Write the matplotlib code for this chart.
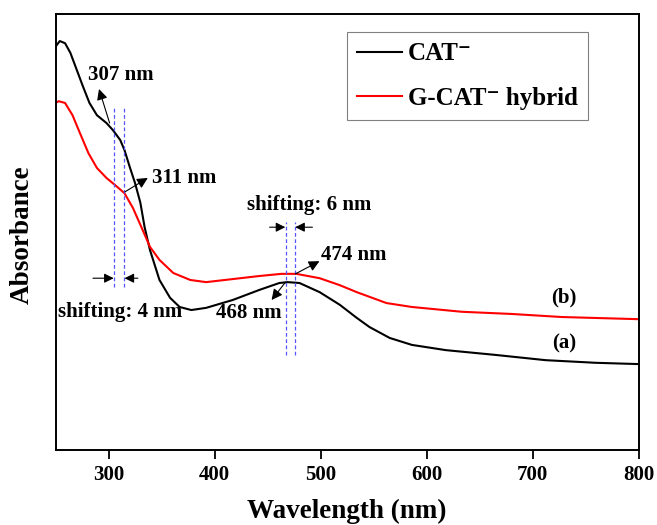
"""UV-vis absorbance spectra of CAT- and G-CAT- hybrid."""

import matplotlib
matplotlib.use('Agg')
import matplotlib.pyplot as plt

plt.rcParams['font.family'] = ['Liberation Serif', 'DejaVu Serif']
plt.rcParams['font.weight'] = 'bold'

# CAT- (curve a)
cat_wl = [250, 254, 259, 264, 270, 276, 282, 289, 298, 304, 311, 315, 320,
          325, 330, 334, 339, 348, 358, 367, 378, 392, 417, 442, 461, 469,
          480, 499, 518, 534, 546, 565, 586, 618, 665, 712, 759, 800]
cat_abs = [0.925, 0.938, 0.933, 0.911, 0.872, 0.833, 0.796, 0.768, 0.750,
           0.734, 0.711, 0.688, 0.649, 0.612, 0.567, 0.511, 0.459, 0.390,
           0.349, 0.328, 0.321, 0.326, 0.344, 0.367, 0.383, 0.385, 0.383,
           0.362, 0.333, 0.303, 0.282, 0.257, 0.241, 0.229, 0.218, 0.206,
           0.200, 0.197]

# G-CAT- hybrid (curve b)
hyb_wl = [250, 253, 259, 266, 273, 281, 289, 298, 306, 315, 323, 331, 339,
          348, 361, 377, 392, 417, 442, 463, 477, 499, 518, 534, 562, 586,
          633, 680, 727, 800]
hyb_abs = [0.796, 0.800, 0.796, 0.768, 0.727, 0.681, 0.647, 0.624, 0.608,
           0.589, 0.555, 0.511, 0.466, 0.436, 0.406, 0.390, 0.385, 0.392,
           0.399, 0.404, 0.404, 0.394, 0.378, 0.362, 0.337, 0.328, 0.317,
           0.312, 0.305, 0.300]

x_ticks = [300, 400, 500, 600, 700, 800]
uv_marks = [305, 315]
vis_marks = [467, 476]

fig = plt.figure(figsize=(6.57, 5.25), dpi=100)
ax = fig.add_axes([0.0845, 0.1429, 0.888, 0.8304])

ax.plot(cat_wl, cat_abs, color='black', lw=1.5, label='CAT\u207b')
ax.plot(hyb_wl, hyb_abs, color='red', lw=1.5, label='G-CAT\u207b hybrid')

# dashed guide lines
for wl in uv_marks:
    ax.plot([wl, wl], [0.374, 0.784], color='#5555ff', lw=0.9,
            linestyle=(0, (3, 2)))
for wl in vis_marks:
    ax.plot([wl, wl], [0.218, 0.523], color='#5555ff', lw=0.9,
            linestyle=(0, (3, 2)))

arrow = dict(arrowstyle='-|>', color='black', lw=0.8, mutation_scale=16,
             shrinkA=0, shrinkB=0)
small = dict(arrowstyle='-|>', color='black', lw=0.8, mutation_scale=14,
             shrinkA=0, shrinkB=0)
fs = 15

# peak labels
ax.annotate('', xy=(291, 0.828), xytext=(301, 0.750), arrowprops=arrow)
ax.text(280.6, 0.860, '307 nm', fontsize=fs, va='center', ha='left')
ax.annotate('', xy=(337, 0.624), xytext=(315.4, 0.592), arrowprops=arrow)
ax.text(340.8, 0.624, '311 nm', fontsize=fs, va='center', ha='left')
ax.annotate('', xy=(498.8, 0.433), xytext=(476.2, 0.404), arrowprops=arrow)
ax.text(500.7, 0.447, '474 nm', fontsize=fs, va='center', ha='left')
ax.annotate('', xy=(453.7, 0.344), xytext=(466.8, 0.385), arrowprops=arrow)
ax.text(463.1, 0.314, '468 nm', fontsize=fs, va='center', ha='right')

# shift markers
ax.annotate('', xy=(304.8, 0.394), xytext=(285.3, 0.394), arrowprops=small)
ax.annotate('', xy=(315.1, 0.394), xytext=(327.6, 0.394), arrowprops=small)
ax.text(252.4, 0.317, 'shifting: 4 nm', fontsize=fs, va='center', ha='left')
ax.annotate('', xy=(466.6, 0.511), xytext=(451.8, 0.511), arrowprops=small)
ax.annotate('', xy=(476.0, 0.511), xytext=(492.2, 0.511), arrowprops=small)
ax.text(489.4, 0.562, 'shifting: 6 nm', fontsize=fs, va='center', ha='center')

ax.text(729.3, 0.349, '(b)', fontsize=fs, va='center', ha='center')
ax.text(729.3, 0.245, '(a)', fontsize=fs, va='center', ha='center')

ax.set_xlim(250, 800)
ax.set_ylim(0, 1)
ax.set_xticks(x_ticks)
ax.set_yticks([])
ax.tick_params(axis='x', direction='out', length=6.5, width=1.3,
               labelsize=15, pad=4)
for spine in ax.spines.values():
    spine.set_linewidth(1.4)

ax.set_xlabel('Wavelength (nm)', fontsize=19.5, fontweight='bold')
ax.xaxis.set_label_coords(0.5, -0.112)
ax.set_ylabel('Absorbance', fontsize=19.5, fontweight='bold')
ax.yaxis.set_label_coords(-0.035, 0.493)

leg = ax.legend(loc='upper left', bbox_to_anchor=(0.4996, 0.958),
                borderaxespad=0, fontsize=18, handlelength=1.8,
                handletextpad=0.25, labelspacing=0.85, borderpad=0.4,
                fancybox=False, framealpha=1)
leg.get_frame().set_edgecolor('gray')
leg.get_frame().set_linewidth(0.8)

fig.savefig('out.png', dpi=100)
plt.close(fig)
